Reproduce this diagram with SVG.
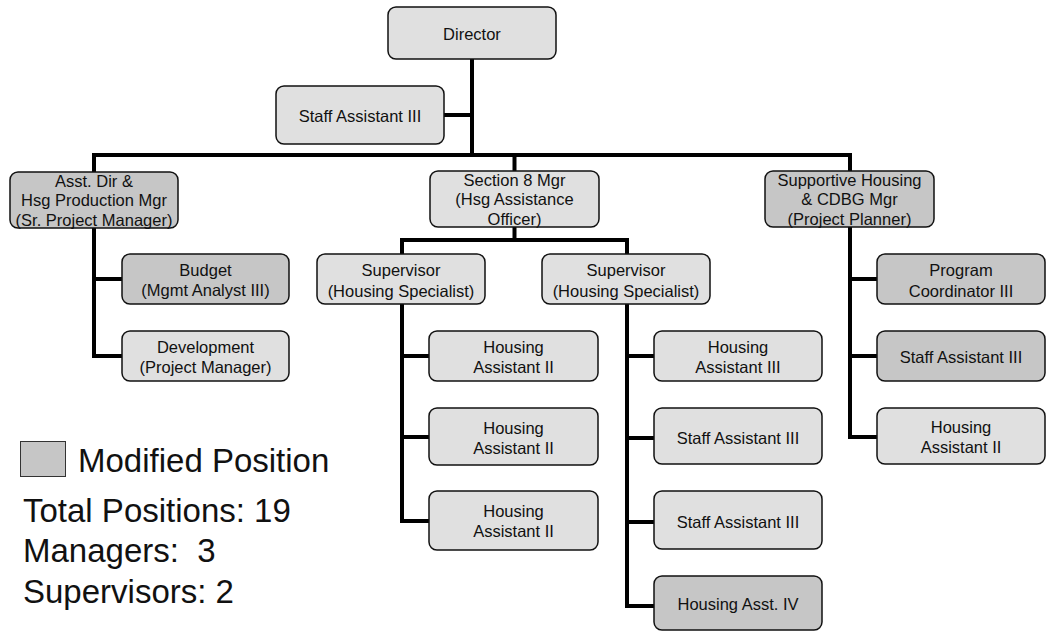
<svg xmlns="http://www.w3.org/2000/svg" width="1054" height="631" viewBox="0 0 1054 631">
<style>
.box{fill:#e0e0e0;stroke:#111;stroke-width:1.5}
.mod{fill:#c6c6c6;stroke:#111;stroke-width:1.5}
.t{font-family:"Liberation Sans",Arial,Helvetica,sans-serif;font-size:16.5px;fill:#111;text-anchor:middle}
.lg{font-family:"Liberation Sans",Arial,Helvetica,sans-serif;font-size:33px;fill:#111;white-space:pre}
.c{fill:none;stroke:#000;stroke-width:4;stroke-linejoin:miter;stroke-linecap:butt}
</style>
<rect width="1054" height="631" fill="#fff"/>
<g id="connectors" class="c">
<path d="M472 59V155"/>
<path d="M444 115H472"/>
<path d="M94 172V155H850V171"/>
<path d="M514.5 155V171"/>
<path d="M94 228V356H122"/>
<path d="M94 279H122"/>
<path d="M514.5 227V240"/>
<path d="M402 254V240H627V254"/>
<path d="M402 304V521H429"/>
<path d="M402 356H429"/>
<path d="M402 437H429"/>
<path d="M627 304V606H654"/>
<path d="M627 356H654"/>
<path d="M627 438H654"/>
<path d="M627 522H654"/>
<path d="M850 227V437H877"/>
<path d="M850 279H877"/>
<path d="M850 356H877"/>
</g>
<g id="director"><rect class="box" x="388" y="7" width="168" height="52" rx="8"/><text class="t" x="472" y="40">Director</text></g>
<g id="staff-assistant-top"><rect class="box" x="276" y="86" width="168" height="58" rx="8"/><text class="t" x="360" y="121.5">Staff Assistant III</text></g>
<g id="asst-dir"><rect class="mod" x="10" y="172" width="168" height="56" rx="8"/><text class="t" x="94" y="186.5">Asst. Dir &amp;</text><text class="t" x="94" y="206">Hsg Production Mgr</text><text class="t" x="94" y="225.5">(Sr. Project Manager)</text></g>
<g id="section8"><rect class="box" x="430" y="171" width="169" height="56" rx="8"/><text class="t" x="514.5" y="185.5">Section 8 Mgr</text><text class="t" x="514.5" y="205">(Hsg Assistance</text><text class="t" x="514.5" y="224.5">Officer)</text></g>
<g id="supportive"><rect class="mod" x="765" y="171" width="169" height="56" rx="8"/><text class="t" x="849.5" y="185.5">Supportive Housing</text><text class="t" x="849.5" y="205">&amp; CDBG Mgr</text><text class="t" x="849.5" y="224.5">(Project Planner)</text></g>
<g id="budget"><rect class="mod" x="122" y="254" width="167" height="50" rx="8"/><text class="t" x="205.5" y="276">Budget</text><text class="t" x="205.5" y="296">(Mgmt Analyst III)</text></g>
<g id="development"><rect class="box" x="122" y="331" width="167" height="50" rx="8"/><text class="t" x="205.5" y="353">Development</text><text class="t" x="205.5" y="373">(Project Manager)</text></g>
<g id="supervisor1"><rect class="box" x="317" y="254" width="168" height="50" rx="8"/><text class="t" x="401" y="276">Supervisor</text><text class="t" x="401" y="296.5">(Housing Specialist)</text></g>
<g id="supervisor2"><rect class="box" x="542" y="254" width="168" height="50" rx="8"/><text class="t" x="626" y="276">Supervisor</text><text class="t" x="626" y="296.5">(Housing Specialist)</text></g>
<g id="ha2-1"><rect class="box" x="429" y="331" width="169" height="50" rx="8"/><text class="t" x="513.5" y="353">Housing</text><text class="t" x="513.5" y="373">Assistant II</text></g>
<g id="ha2-2"><rect class="box" x="429" y="408" width="169" height="57" rx="8"/><text class="t" x="513.5" y="433.5">Housing</text><text class="t" x="513.5" y="453.5">Assistant II</text></g>
<g id="ha2-3"><rect class="box" x="429" y="491" width="169" height="59" rx="8"/><text class="t" x="513.5" y="517">Housing</text><text class="t" x="513.5" y="537">Assistant II</text></g>
<g id="ha3"><rect class="box" x="654" y="331" width="168" height="50" rx="8"/><text class="t" x="738" y="353">Housing</text><text class="t" x="738" y="373">Assistant III</text></g>
<g id="sa3-1"><rect class="box" x="654" y="408" width="168" height="56" rx="8"/><text class="t" x="738" y="444">Staff Assistant III</text></g>
<g id="sa3-2"><rect class="box" x="654" y="491" width="168" height="58" rx="8"/><text class="t" x="738" y="527.5">Staff Assistant III</text></g>
<g id="ha4"><rect class="mod" x="654" y="576" width="168" height="54" rx="8"/><text class="t" x="738" y="610">Housing Asst. IV</text></g>
<g id="pc3"><rect class="mod" x="877" y="254" width="168" height="50" rx="8"/><text class="t" x="961" y="276">Program</text><text class="t" x="961" y="296.5">Coordinator III</text></g>
<g id="sa3-right"><rect class="mod" x="877" y="331" width="168" height="50" rx="8"/><text class="t" x="961" y="362.5">Staff Assistant III</text></g>
<g id="ha2-right"><rect class="box" x="877" y="408" width="168" height="56" rx="8"/><text class="t" x="961" y="433">Housing</text><text class="t" x="961" y="453">Assistant II</text></g>
<g id="legend">
<rect x="20.5" y="441.5" width="45" height="35" fill="#c6c6c6" stroke="#333" stroke-width="1"/>
<text class="lg" x="78" y="471.5">Modified Position</text>
<text class="lg" x="23" y="521.5">Total Positions: 19</text>
<text class="lg" x="23" y="562">Managers:  3</text>
<text class="lg" x="23" y="602.5">Supervisors: 2</text>
</g>
</svg>
